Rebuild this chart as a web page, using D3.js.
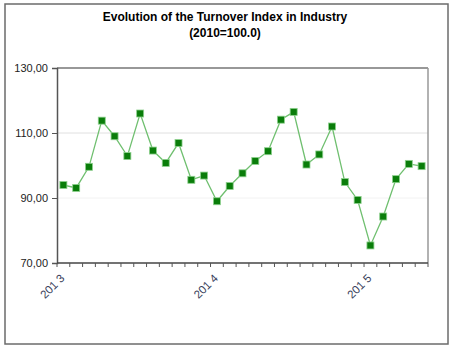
<!DOCTYPE html>
<html>
<head>
<meta charset="utf-8">
<script src="https://cdn.jsdelivr.net/npm/d3@7"></script>
<style>
  body { margin: 0; background: #fff; }
  svg { display: block; font-family: "Liberation Sans", Arial, sans-serif; }
</style>
</head>
<body>
<script>
// monthly index, Jan 2013 .. May 2015
const months = d3.range(29);
const turnover = [94.0, 93.1, 99.6, 113.8, 109.0, 102.9, 116.0, 104.6, 100.8, 106.9,
                  95.6, 96.9, 89.0, 93.7, 97.6, 101.4, 104.4, 114.1, 116.5, 100.3,
                  103.4, 112.0, 94.9, 89.4, 75.4, 84.3, 95.8, 100.5, 99.8];
const yTicks = [70, 90, 110, 130];
const xLabels = {0: "201 3", 12: "201 4", 24: "201 5"};

function main() {
    let width = 460, height = 351;
    let left = 57, right = 428, top = 68, bottom = 263;

    let svg = d3.select("body").append("svg")
        .attr("width", width)
        .attr("height", height);

    // outer frame
    svg.append("rect")
        .attr("x", 5).attr("y", 4)
        .attr("width", 443).attr("height", 340)
        .attr("fill", "none")
        .attr("stroke", "#6b6b6b")
        .attr("stroke-width", 1.5);

    svg.append("text")
        .attr("x", 225).attr("y", 21)
        .attr("text-anchor", "middle")
        .attr("font-size", 12).attr("font-weight", "bold")
        .text("Evolution of the Turnover Index in Industry");
    svg.append("text")
        .attr("x", 225).attr("y", 37)
        .attr("text-anchor", "middle")
        .attr("font-size", 12).attr("font-weight", "bold")
        .text("(2010=100.0)");

    let xScale = d3.scaleBand().domain(months).range([left, right]);
    let yScale = d3.scaleLinear().domain([70, 130]).range([bottom, top]);

    // gridlines
    svg.append("g")
        .selectAll("line")
        .data([90, 110])
        .enter()
        .append("line")
        .attr("x1", left).attr("x2", right)
        .attr("y1", d => yScale(d)).attr("y2", d => yScale(d))
        .attr("stroke", d => d == 110 ? "#e0e0e0" : "#f2f2f2")
        .attr("stroke-width", 1);

    // plot frame top / right
    svg.append("line")
        .attr("x1", left).attr("x2", right)
        .attr("y1", top).attr("y2", top)
        .attr("stroke", "#333").attr("stroke-width", 1.2);
    svg.append("line")
        .attr("x1", right).attr("x2", right)
        .attr("y1", top).attr("y2", bottom)
        .attr("stroke", "#999").attr("stroke-width", 1.5);

    // y axis
    let yAxis = svg.append("g")
        .attr("transform", "translate(" + left + ",0)")
        .call(d3.axisLeft(yScale).tickValues(yTicks)
            .tickSize(5).tickPadding(4)
            .tickFormat(d => d3.format(".2f")(d).replace(".", ",")));
    yAxis.select(".domain").attr("stroke", "#555").attr("stroke-width", 1.5);
    yAxis.selectAll(".tick line").attr("stroke", "#555");
    yAxis.selectAll("text").attr("font-size", 11).attr("fill", "#222")
        .attr("font-family", "Liberation Sans, Arial, sans-serif");

    // x axis: ticks on band edges
    let edges = months.map(i => xScale(i)).concat([right]);
    let xg = svg.append("g");
    xg.append("line")
        .attr("x1", left).attr("x2", right)
        .attr("y1", bottom).attr("y2", bottom)
        .attr("stroke", "#444").attr("stroke-width", 1.5);
    xg.selectAll("line.tk")
        .data(edges)
        .enter()
        .append("line")
        .attr("class", "tk")
        .attr("x1", d => d).attr("x2", d => d)
        .attr("y1", bottom).attr("y2", bottom + 4)
        .attr("stroke", "#555");
    xg.selectAll("text")
        .data(Object.keys(xLabels).map(Number))
        .enter()
        .append("text")
        .attr("transform", d => "translate(" + (xScale(d) + xScale.bandwidth() / 2 - 1) + "," + (bottom + 13) + ") rotate(-45)")
        .attr("text-anchor", "end")
        .attr("dy", "0.35em")
        .attr("font-size", 11.5)
        .attr("fill", "#3a3f5c")
        .text(d => xLabels[d]);

    // line + markers
    let cx = i => xScale(i) + xScale.bandwidth() / 2;
    svg.append("path")
        .datum(turnover)
        .attr("fill", "none")
        .attr("stroke", "#6fbf6f")
        .attr("stroke-width", 1.3)
        .attr("d", d3.line().x((d, i) => cx(i)).y(d => yScale(d)));

    svg.append("g")
        .selectAll("rect")
        .data(turnover)
        .enter()
        .append("rect")
        .attr("x", (d, i) => cx(i) - 3.5)
        .attr("y", d => yScale(d) - 3.5)
        .attr("width", 7).attr("height", 7)
        .attr("fill", "#0a7d0a")
        .attr("stroke", "#8ed18e")
        .attr("stroke-width", 0.8);
}

main();
</script>
</body>
</html>
